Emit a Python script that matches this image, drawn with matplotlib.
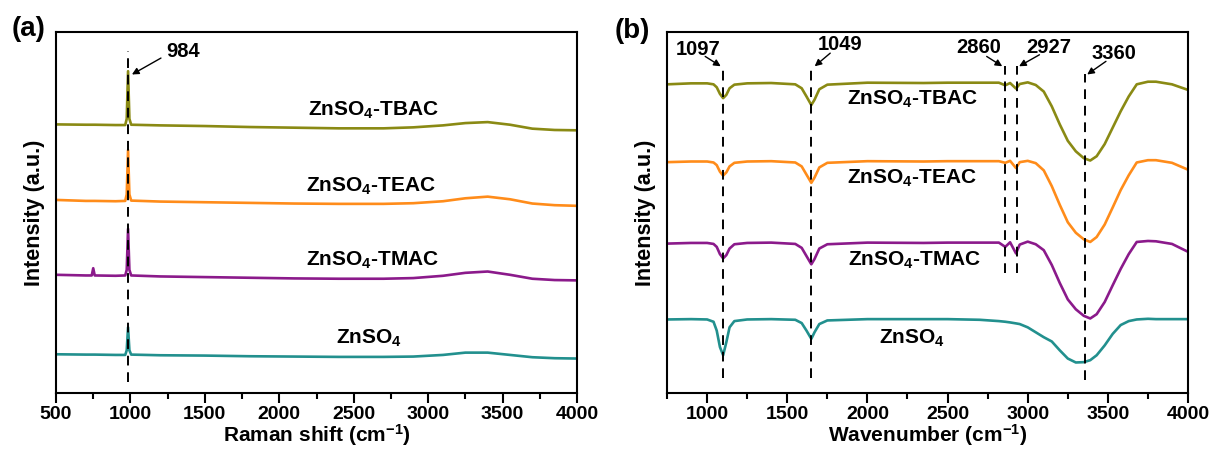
import matplotlib
matplotlib.use('Agg')
import matplotlib.pyplot as plt
from matplotlib.ticker import MultipleLocator, NullLocator

plt.rcParams['font.family'] = ['Liberation Sans', 'DejaVu Sans']
plt.rcParams['font.weight'] = 'bold'
plt.rcParams['mathtext.fontset'] = 'custom'
plt.rcParams['mathtext.bf'] = 'Liberation Sans:bold'
plt.rcParams['mathtext.rm'] = 'Liberation Sans:bold'
plt.rcParams['mathtext.default'] = 'bf'

colors = {'TBAC': '#8a8a14', 'TEAC': '#ff8c1a', 'TMAC': '#8b1a8b', 'ZnSO4': '#22908e'}
labels = {'TBAC': r'ZnSO$_4$-TBAC', 'TEAC': r'ZnSO$_4$-TEAC',
          'TMAC': r'ZnSO$_4$-TMAC', 'ZnSO4': r'ZnSO$_4$'}

# ---- (a) Raman, stacked (arbitrary units) ----
raman_x = [500, 700, 740, 750, 760, 900, 965, 975, 984, 993, 1005, 1200, 1500, 1800,
           2100, 2400, 2700, 2900, 3100, 3250, 3400, 3550, 3700, 3850, 4000]
raman_tbac = [81.8, 81.7, 81.7, 81.7, 81.7, 81.6, 81.6, 83.5, 98.0, 83.5, 81.7, 81.5, 81.3, 81.0,
              80.8, 80.6, 80.6, 80.9, 81.5, 82.2, 82.5, 81.7, 80.5, 80.1, 80.0]
raman_teac = [58.8, 58.5, 58.5, 58.5, 58.5, 58.4, 58.5, 60.5, 74.0, 60.5, 58.6, 58.3, 58.1, 57.9,
              57.7, 57.6, 57.6, 57.8, 58.4, 59.3, 59.8, 59.0, 57.7, 57.2, 57.0]
raman_tmac = [36.0, 35.8, 35.8, 38.0, 35.8, 35.7, 35.8, 37.5, 50.0, 37.5, 35.8, 35.5, 35.3, 35.1,
              34.9, 34.8, 34.8, 35.0, 35.7, 36.6, 37.0, 36.0, 34.8, 34.4, 34.3]
raman_znso4 = [11.8, 11.7, 11.7, 11.7, 11.7, 11.6, 11.6, 13.0, 20.0, 13.0, 11.7, 11.5, 11.4, 11.2,
               11.1, 11.0, 11.0, 11.1, 11.6, 12.3, 12.3, 11.6, 10.9, 10.6, 10.5]
raman_label_pos = {'TBAC': (2630, 86.0), 'TEAC': (2615, 63.0), 'TMAC': (2630, 40.5), 'ZnSO4': (2600, 16.5)}

# ---- (b) FTIR, stacked (arbitrary units) ----
ir_x = [750, 900, 1000, 1040, 1060, 1080, 1100, 1120, 1140, 1170, 1250, 1400, 1550, 1590, 1620,
        1650, 1670, 1700, 1750, 2000, 2350, 2500, 2700, 2820, 2860, 2890, 2927, 2950, 3000,
        3050, 3100, 3150, 3200, 3250, 3300, 3350, 3390, 3430, 3480, 3530, 3580, 3630, 3680,
        3750, 3800, 3900, 4000]
ir_tbac = [94.0, 94.3, 94.3, 94.0, 93.1, 91.1, 89.8, 90.8, 92.8, 93.9, 94.3, 94.4, 94.0, 92.8, 90.3,
           87.7, 89.3, 92.5, 93.9, 94.5, 94.4, 94.5, 94.5, 94.5, 93.7, 94.4, 92.7, 94.1, 94.6,
           93.8, 91.8, 87.3, 81.8, 76.8, 73.6, 71.5, 70.8, 72.1, 75.8, 80.8, 85.8, 90.3, 94.0,
           94.8, 94.8, 94.0, 92.3]
ir_teac = [70.3, 70.5, 70.5, 70.2, 69.4, 67.4, 66.2, 67.2, 69.0, 70.1, 70.5, 70.6, 70.2, 69.0, 66.5,
           64.0, 65.6, 68.7, 70.1, 70.6, 70.5, 70.6, 70.6, 70.6, 70.1, 70.7, 68.5, 70.3, 70.7,
           70.0, 67.8, 63.0, 57.3, 52.0, 48.8, 46.8, 46.0, 47.5, 51.3, 56.5, 61.8, 66.3, 70.2,
           70.9, 70.9, 70.1, 68.0]
ir_tmac = [45.5, 45.7, 45.7, 45.4, 44.5, 42.3, 41.0, 42.0, 44.0, 45.3, 45.7, 45.8, 45.4, 44.2, 41.7,
           39.2, 40.8, 44.0, 45.3, 45.8, 45.7, 45.8, 45.8, 45.8, 44.5, 45.9, 42.5, 45.2, 46.1,
           45.3, 43.5, 39.0, 33.5, 28.5, 25.5, 23.5, 22.7, 24.0, 27.7, 32.8, 37.8, 42.3, 46.0,
           46.3, 46.2, 45.4, 43.0]
ir_znso4 = [22.4, 22.5, 22.4, 21.7, 19.0, 14.0, 11.5, 15.5, 20.0, 21.9, 22.4, 22.5, 22.3, 21.3, 19.0,
            16.5, 18.5, 21.0, 22.1, 22.5, 22.5, 22.5, 22.3, 21.9, 21.7, 21.5, 21.2, 21.0, 20.0,
            18.5, 17.0, 15.7, 13.0, 10.5, 9.3, 9.4, 10.0, 11.5, 14.5, 18.0, 20.7, 21.9, 22.4,
            22.6, 22.5, 22.5, 22.5]
ir_label_pos = {'TBAC': (2280, 89.5), 'TEAC': (2280, 65.5), 'TMAC': (2295, 40.5), 'ZnSO4': (2280, 16.5)}

# dashed guide lines: (x, y_bottom, y_top)
raman_guides = [(984, 3.5, 104.0)]
ir_guides = [(1100, 4.5, 99.5), (1650, 4.5, 99.5), (2860, 36.5, 99.5),
             (2932, 36.5, 99.5), (3360, 4.0, 97.0)]
# annotations: text, text centre, arrow tail, arrow head
raman_notes = [('984', (1355, 104.0), (1205, 102.0), (1010, 97.0))]
ir_notes = [('1097', (946, 104.7), (988, 102.5), (1085, 99.5)),
            ('1049', (1829, 106.0), (1768, 103.5), (1671, 99.5)),
            ('2860', (2695, 105.2), (2744, 102.5), (2841, 99.5)),
            ('2927', (3134, 105.2), (3073, 103.0), (2946, 99.5)),
            ('3360', (3537, 103.5), (3488, 101.0), (3371, 97.0))]


def style_axis(ax, xmin, xlabel):
    ax.set_xlim(xmin, 4000)
    ax.set_ylim(0, 109.8)
    ax.xaxis.set_major_locator(MultipleLocator(500))
    ax.xaxis.set_minor_locator(MultipleLocator(250))
    ax.yaxis.set_major_locator(NullLocator())
    ax.tick_params(axis='x', which='major', direction='out', length=7, width=1.5,
                   labelsize=14, pad=2, top=False)
    ax.tick_params(axis='x', which='minor', direction='out', length=4.5, width=1.5, top=False)
    for s in ax.spines.values():
        s.set_linewidth(1.5)
    ax.set_xlabel(xlabel, fontsize=15, fontweight='bold', labelpad=0)
    ax.set_ylabel('Intensity (a.u.)', fontsize=15.5, fontweight='bold', labelpad=8)


def draw_panel(ax, xs, series, label_pos, guides, notes):
    for name, ys in series.items():
        ax.plot(xs, ys, color=colors[name], lw=1.9)
        tx, ty = label_pos[name]
        ax.text(tx, ty, labels[name], ha='center', va='center', fontsize=15, fontweight='bold')
    for gx, y0, y1 in guides:
        ax.plot([gx, gx], [y0, y1], color='black', lw=1.4, ls=(0, (5, 3.5)))
    for txt, tpos, tail, head in notes:
        ax.text(tpos[0], tpos[1], txt, ha='center', va='center', fontsize=14.5, fontweight='bold')
        ax.annotate('', xy=head, xytext=tail,
                    arrowprops=dict(arrowstyle='-|>', color='black', lw=1.0,
                                    mutation_scale=10, shrinkA=0, shrinkB=0))


fig = plt.figure(figsize=(12.15, 4.57), dpi=100)
ax_a = fig.add_axes([0.0461, 0.14, 0.4288, 0.789])
ax_b = fig.add_axes([0.549, 0.14, 0.4288, 0.789])

draw_panel(ax_a, raman_x, {'TBAC': raman_tbac, 'TEAC': raman_teac, 'TMAC': raman_tmac,
                           'ZnSO4': raman_znso4}, raman_label_pos, raman_guides, raman_notes)
draw_panel(ax_b, ir_x, {'TBAC': ir_tbac, 'TEAC': ir_teac, 'TMAC': ir_tmac,
                        'ZnSO4': ir_znso4}, ir_label_pos, ir_guides, ir_notes)
style_axis(ax_a, 500, r'Raman shift (cm$^{-1}$)')
style_axis(ax_b, 750, r'Wavenumber (cm$^{-1}$)')

fig.text(29 / 1215, 1 - 29 / 457, '(a)', ha='center', va='center', fontsize=20, fontweight='bold')
fig.text(632 / 1215, 1 - 31 / 457, '(b)', ha='center', va='center', fontsize=20, fontweight='bold')

fig.savefig('out.png', dpi=100)
